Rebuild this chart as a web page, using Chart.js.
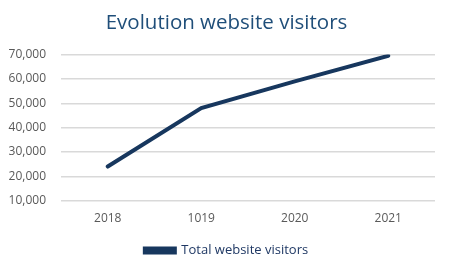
<!DOCTYPE html>
<html>
<head>
<meta charset="utf-8">
<script src="https://cdn.jsdelivr.net/npm/chart.js@4"></script>
<style>
  html, body { margin: 0; padding: 0; background: #fff; }
  #wrap { width: 450px; height: 270px; }
</style>
</head>
<body>
<div id="wrap"><canvas id="myChart"></canvas></div>
<script>
// data (the "1019" label is as in the original)
const years = ["2018", "1019", "2020", "2021"];
const visitors = [24000, 48000, 59000, 69500];
const yMin = 10000;
const yMax = 70000;
const yStep = 10000;

const navy = '#17375e';

let ctx = document.getElementById("myChart");
let myChart = new Chart(ctx, {
    type: 'line',
    data: {
        labels: years,
        datasets: [{
            label: 'Total website visitors',
            data: visitors,
            borderColor: navy,
            backgroundColor: navy,
            borderWidth: 4,
            pointRadius: 0,
            tension: 0,
            borderCapStyle: 'round'
        }]
    },
    options: {
        responsive: true,
        maintainAspectRatio: false,
        animation: false,
        layout: { padding: { left: 8, right: 5, top: 11, bottom: 3 } },
        plugins: {
            title: {
                display: true,
                text: 'Evolution website visitors',
                color: '#1f4e79',
                font: { family: 'Open Sans', size: 20.5, weight: 'normal' },
                padding: { top: 0, bottom: 19 }
            },
            legend: {
                position: 'bottom',
                labels: {
                    color: '#1f3864',
                    font: { family: 'Open Sans', size: 13 },
                    boxWidth: 30,
                    boxHeight: 4,
                    padding: 7
                }
            },
            tooltip: { enabled: false }
        },
        scales: {
            x: {
                offset: true,
                grid: { display: false, drawTicks: false },
                border: { display: false },
                ticks: {
                    color: '#595959',
                    font: { family: 'Open Sans', size: 12 },
                    padding: 11
                }
            },
            y: {
                min: yMin,
                max: yMax,
                afterFit: s => { s.width = 53; },
                ticks: {
                    stepSize: yStep,
                    color: '#595959',
                    font: { family: 'Open Sans', size: 12 },
                    padding: 15,
                    callback: v => v.toLocaleString('en-US')
                },
                grid: { color: '#d9d9d9', lineWidth: 1.5, drawTicks: false },
                border: { display: false }
            },
            // empty right-hand spacer so the legend and title sit centred like the original
            yRight: {
                position: 'right',
                display: true,
                afterFit: s => { s.width = 10; },
                ticks: { display: false },
                grid: { display: false, drawTicks: false },
                border: { display: false }
            }
        }
    }
});
</script>
</body>
</html>
